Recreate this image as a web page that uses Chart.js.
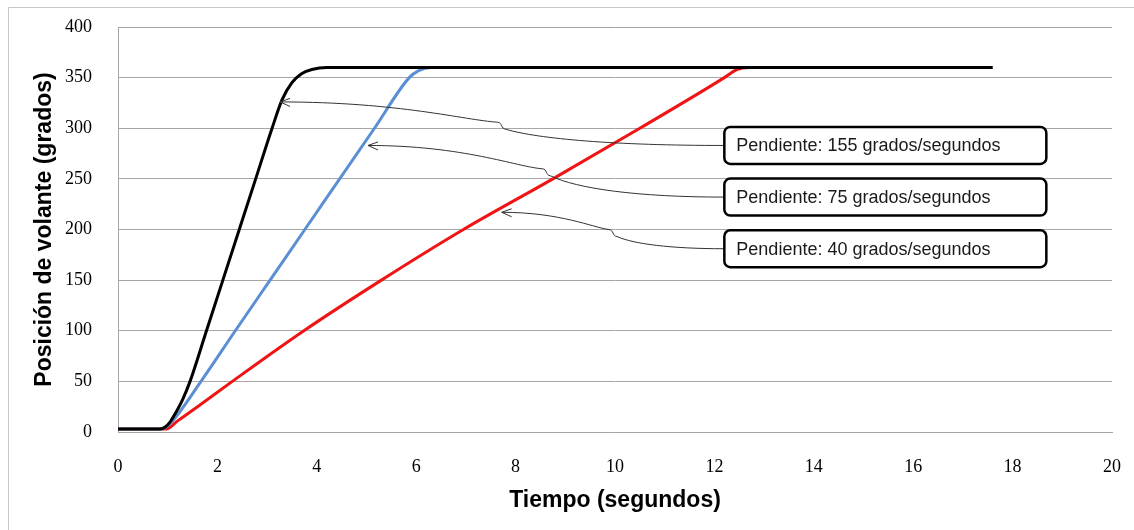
<!DOCTYPE html>
<html>
<head>
<meta charset="utf-8">
<script src="https://cdn.jsdelivr.net/npm/chart.js@4.4.1/dist/chart.umd.min.js"></script>
<style>
  html, body { margin: 0; padding: 0; background: #fff; }
  #wrap { position: relative; width: 1134px; height: 530px; }
</style>
</head>
<body>
<div id="wrap"><canvas id="myChart" width="1134" height="530"></canvas></div>
<script>
// tick labels
const xTicks = [0, 2, 4, 6, 8, 10, 12, 14, 16, 18, 20];
const yTicks = [0, 50, 100, 150, 200, 250, 300, 350, 400];

// series: time (s) / position (deg)
const blackT = [0, 0.85, 0.95, 1.05, 1.15, 1.3, 1.45, 1.78, 2.11, 2.44, 2.77, 3.1, 3.3, 3.5, 3.7, 3.9, 4.2, 17.6];
const blackV = [3, 3, 5, 10, 18, 32, 50, 100, 150, 200, 250, 300, 328, 345, 354, 358, 360, 360];

const blueT = [0, 0.85, 0.97, 1.1, 1.67, 2.36, 3.06, 3.76, 4.46, 5.16, 5.86, 6.05, 6.3, 15];
const blueV = [3, 3, 5, 11, 50, 100, 150, 200, 250, 300, 350, 357, 360, 360];

const redT = [0, 0.9, 0.97, 1.2, 1.6, 2.3, 3.74, 5.3, 6.95, 8.75, 10.5, 12.2, 12.45, 12.7, 15];
const redV = [3, 3, 3, 11, 25, 50, 100, 150, 200, 250, 300, 350, 358, 360, 360];

// callouts
const notes = [
    'Pendiente: 155 grados/segundos',
    'Pendiente: 75 grados/segundos',
    'Pendiente: 40 grados/segundos'
];
const noteTip = [[3.26, 326], [5.03, 283], [7.72, 217]];
const noteHook = [[7.72, 303], [8.62, 257], [9.96, 197]];
const noteBox = [[12.2, 283], [12.2, 232], [12.2, 181]];

function pts(t, v) {
    return t.map(function (x, i) { return { x: x, y: v[i] }; });
}

const frame = {
    id: 'frame',
    beforeDraw: function (chart) {
        const ctx = chart.ctx;
        ctx.save();
        ctx.strokeStyle = '#c8c8c8';
        ctx.lineWidth = 1;
        ctx.beginPath();
        ctx.moveTo(8.5, 530);
        ctx.lineTo(8.5, 7.5);
        ctx.lineTo(1134, 7.5);
        ctx.stroke();
        ctx.restore();
    }
};

const callouts = {
    id: 'callouts',
    afterDatasetsDraw: function (chart) {
        const ctx = chart.ctx;
        const xs = chart.scales.x, ys = chart.scales.y;
        ctx.save();
        for (let i = 0; i < notes.length; i++) {
            const T = { x: xs.getPixelForValue(noteTip[i][0]), y: ys.getPixelForValue(noteTip[i][1]) };
            const H = { x: xs.getPixelForValue(noteHook[i][0]), y: ys.getPixelForValue(noteHook[i][1]) };
            const bx = xs.getPixelForValue(noteBox[i][0]);
            const by = ys.getPixelForValue(noteBox[i][1]);
            const P = { x: bx, y: by };
            const H1 = { x: H.x - 4, y: H.y - 3 };
            const H2 = { x: H.x + 4, y: H.y + 4 };
            const dx = H1.x - T.x, dx2 = P.x - H2.x;

            ctx.strokeStyle = '#333';
            ctx.lineWidth = 1;
            ctx.beginPath();
            ctx.moveTo(T.x, T.y);
            ctx.bezierCurveTo(T.x + 0.55 * dx, T.y, H1.x - 0.15 * dx, H1.y - 2, H1.x, H1.y);
            ctx.bezierCurveTo(H1.x + 5, H1.y + 0.5, H2.x - 5, H2.y - 0.5, H2.x, H2.y);
            ctx.bezierCurveTo(H2.x + 0.15 * dx2, H2.y + (P.y - H2.y) * 0.6, P.x - 0.5 * dx2, P.y, P.x, P.y);
            ctx.stroke();

            // open arrow head
            ctx.beginPath();
            ctx.moveTo(T.x + 10, T.y - 3.5);
            ctx.lineTo(T.x, T.y);
            ctx.lineTo(T.x + 10, T.y + 4.5);
            ctx.stroke();

            // box
            const w = 322, h = 37, r = 6;
            const left = bx, top = by - h / 2;
            ctx.fillStyle = '#fff';
            ctx.strokeStyle = '#000';
            ctx.lineWidth = 2.5;
            ctx.beginPath();
            ctx.roundRect(left, top, w, h, r);
            ctx.fill();
            ctx.stroke();

            ctx.fillStyle = '#1a1a1a';
            ctx.font = '18px "Liberation Sans", Arial, sans-serif';
            ctx.textAlign = 'left';
            ctx.textBaseline = 'middle';
            ctx.fillText(notes[i], left + 12, by + 1);
        }
        ctx.restore();
    }
};

const data = {
    datasets: [{
        label: '155',
        data: pts(blackT, blackV),
        borderColor: '#000000',
        borderWidth: 3
    }, {
        label: '75',
        data: pts(blueT, blueV),
        borderColor: '#5a8fd4',
        borderWidth: 3
    }, {
        label: '40',
        data: pts(redT, redV),
        borderColor: '#f01414',
        borderWidth: 3
    }]
};

const tickFont = { family: '"Liberation Serif", "Times New Roman", serif', size: 18 };
const titleFont = { family: '"Liberation Sans", Arial, sans-serif', size: 23, weight: 'bold' };

const config = {
    type: 'line',
    data: data,
    options: {
        responsive: false,
        animation: false,
        elements: { point: { radius: 0 }, line: { cubicInterpolationMode: 'monotone' } },
        layout: { padding: { left: 0, right: 22, top: 27, bottom: 0 } },
        plugins: { legend: { display: false }, tooltip: { enabled: false } },
        scales: {
            x: {
                type: 'linear',
                min: 0, max: 20,
                afterBuildTicks: function (s) { s.ticks = xTicks.map(function (v) { return { value: v }; }); },
                afterFit: function (s) { s.height = 98; s.paddingLeft = 0; s.paddingRight = 0; },
                grid: { display: false },
                border: { display: true, color: '#a6a6a6', width: 1 },
                ticks: { color: '#000', font: tickFont, padding: 16, maxRotation: 0 },
                title: { display: true, text: 'Tiempo (segundos)', color: '#000', font: titleFont, padding: { bottom: 16 } }
            },
            y: {
                min: 0, max: 400,
                afterBuildTicks: function (s) { s.ticks = yTicks.map(function (v) { return { value: v }; }); },
                afterFit: function (s) { s.width = 118; s.paddingTop = 0; s.paddingBottom = 0; },
                grid: { color: '#a6a6a6', lineWidth: 1, drawTicks: false },
                border: { display: true, color: '#a6a6a6', width: 1 },
                ticks: { color: '#000', font: tickFont, padding: 26 },
                title: { display: true, text: 'Posición de volante (grados)', color: '#000', font: titleFont, padding: { top: 31 } }
            }
        }
    },
    plugins: [frame, callouts]
};

const myChart = new Chart(
    document.getElementById('myChart'),
    config
);
</script>
</body>
</html>
